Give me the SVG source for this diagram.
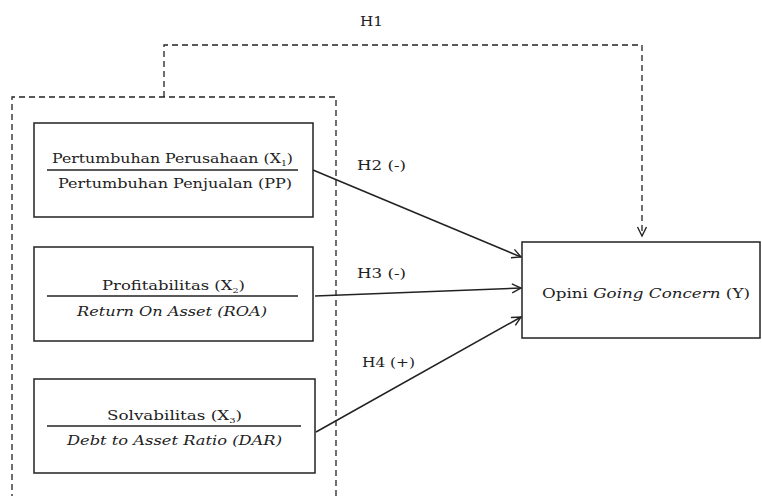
<svg xmlns="http://www.w3.org/2000/svg" width="762" height="496" viewBox="0 0 762 496">
<style>
.t{font-family:"DejaVu Serif","Liberation Serif",serif;font-size:13.5px;fill:#222}
.i{font-style:italic}
.box{fill:#fff;stroke:#222;stroke-width:1.5}
.dash{fill:none;stroke:#222;stroke-width:1.3;stroke-dasharray:6 4}
.ln{stroke:#222;stroke-width:1.3}
.conn{fill:none;stroke:#222;stroke-width:1.5}
.sub{font-size:8px}
</style>
<defs>
<marker id="arr" markerUnits="userSpaceOnUse" markerWidth="12" markerHeight="12" refX="10" refY="5" orient="auto" viewBox="0 0 12 10">
<path d="M1,0.5 L10,5 L1,9.5" fill="none" stroke="#222" stroke-width="1.4"/>
</marker>
</defs>
<g id="group-x">
<path class="dash" d="M12,500 L12,97 L336,97 L336,500"/>
</g>
<g id="x1">
<rect class="box" x="34" y="123" width="279" height="94"/>
<text class="t" x="52" y="163" textLength="241" lengthAdjust="spacingAndGlyphs">Pertumbuhan Perusahaan (X<tspan class="sub" dy="3">1</tspan><tspan dy="-3">)</tspan></text>
<line class="ln" x1="47" y1="170" x2="298" y2="170"/>
<text class="t" x="58" y="188" textLength="234" lengthAdjust="spacingAndGlyphs">Pertumbuhan Penjualan (PP)</text>
</g>
<g id="x2">
<rect class="box" x="34" y="247" width="279" height="94"/>
<text class="t" x="102" y="290" textLength="143" lengthAdjust="spacingAndGlyphs">Profitabilitas (X<tspan class="sub" dy="3">2</tspan><tspan dy="-3">)</tspan></text>
<line class="ln" x1="47" y1="296" x2="298" y2="296"/>
<text class="t i" x="77" y="316" textLength="190" lengthAdjust="spacingAndGlyphs">Return On Asset (ROA)</text>
</g>
<g id="x3">
<rect class="box" x="34" y="379" width="281" height="94"/>
<text class="t" x="107" y="420" textLength="135" lengthAdjust="spacingAndGlyphs">Solvabilitas (X<tspan class="sub" dy="3">3</tspan><tspan dy="-3">)</tspan></text>
<line class="ln" x1="47" y1="426" x2="301" y2="426"/>
<text class="t i" x="67" y="445" textLength="215" lengthAdjust="spacingAndGlyphs">Debt to Asset Ratio (DAR)</text>
</g>
<g id="y">
<rect class="box" x="522" y="242" width="238" height="96"/>
<text class="t" x="542" y="298" textLength="208" lengthAdjust="spacingAndGlyphs">Opini <tspan class="i">Going Concern</tspan> (Y)</text>
</g>
<g id="connectors">
<path class="dash" d="M164,97 L164,45 L642,45 L642,236" marker-end="url(#arr)"/>
<line class="conn" x1="313" y1="170" x2="521" y2="257" marker-end="url(#arr)"/>
<line class="conn" x1="315" y1="296" x2="521" y2="288" marker-end="url(#arr)"/>
<line class="conn" x1="316" y1="432" x2="521" y2="317" marker-end="url(#arr)"/>
</g>
<g id="labels">
<text class="t" x="360" y="26" textLength="23" lengthAdjust="spacingAndGlyphs">H1</text>
<text class="t" x="357" y="170" textLength="49" lengthAdjust="spacingAndGlyphs">H2 (-)</text>
<text class="t" x="357" y="278" textLength="49" lengthAdjust="spacingAndGlyphs">H3 (-)</text>
<text class="t" x="362" y="367" textLength="53" lengthAdjust="spacingAndGlyphs">H4 (+)</text>
</g>
</svg>
